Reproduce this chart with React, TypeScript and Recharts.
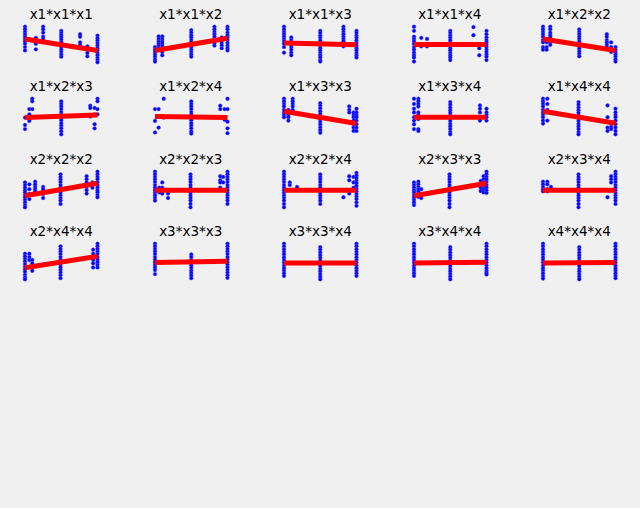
import { Scatter, ScatterChart, XAxis, YAxis } from "recharts";

type Col = [number, number[]];

const TITLES = [
  "x1*x1*x1", "x1*x1*x2", "x1*x1*x3", "x1*x1*x4", "x1*x2*x2",
  "x1*x2*x3", "x1*x2*x4", "x1*x3*x3", "x1*x3*x4", "x1*x4*x4",
  "x2*x2*x2", "x2*x2*x3", "x2*x2*x4", "x2*x3*x3", "x2*x3*x4",
  "x2*x4*x4", "x3*x3*x3", "x3*x3*x4", "x3*x4*x4", "x4*x4*x4",
];

// fitted line: value at left edge, value at right edge
const LINES: [number, number][] = [
  [65, 34], [34, 67], [54, 49], [50, 50], [65, 34],
  [47, 54], [50, 47], [64, 31], [48, 48], [64, 32],
  [33, 67], [48, 48], [48, 48], [33, 67], [48, 48],
  [33, 64], [47, 51], [46, 46], [46, 48], [46, 47],
];

const FULL_A = [98, 91, 83, 76, 69, 61, 54, 47, 39, 32, 25, 18, 11];
const MID_A = [89, 82, 74, 67, 60, 52, 45, 38, 30, 23, 16, 9, 2];

const COLUMNS: Col[][] = [
  [[0, [98, 91, 84, 78, 71, 65, 59, 52, 43, 34]], [15, [68, 59, 52, 37]], [25, [98, 91, 82, 71, 65]], [50, [87, 81, 75, 69, 63, 56, 49, 43, 36, 30, 23, 17]], [76, [78, 71, 56, 49]], [86, [45, 36, 27, 18]], [100, [74, 67, 61, 54, 47, 40, 34, 27, 21, 14, 8, 2]]],
  [[0, [43, 36, 30, 23, 17, 10, 4]], [5, [72, 65, 58, 52, 46, 40]], [10, [72, 65, 58, 52, 46, 39, 30, 21]], [50, [89, 82, 75, 69, 62, 56, 49, 43, 36, 30, 23, 17]], [82, [98, 91, 84, 78, 71, 62, 54, 47]], [92, [69, 62, 54, 47, 40]], [100, [98, 91, 82, 75, 69, 62, 54, 47, 40, 34]]],
  [[0, [98, 91, 84, 78, 71, 65, 59, 52, 43, 28]], [10, [69, 62, 56, 49, 43, 36, 28, 21]], [50, [87, 81, 74, 68, 61, 54, 47, 40, 34, 27, 21, 15, 8, 4]], [82, [98, 91, 84, 78, 71, 65, 59, 52, 45]], [100, [87, 81, 74, 68, 61, 54, 47, 40, 34, 27, 21, 15]]],
  [[0, [98, 87, 71, 65, 59, 52, 43, 36, 28, 21, 15, 4]], [10, [68, 45]], [18, [65, 45]], [50, [87, 81, 74, 68, 61, 54, 47, 40, 34, 27, 21, 15, 8]], [82, [97, 75]], [90, [40, 21]], [100, [87, 78, 69, 62, 56, 49, 43, 36, 30, 23, 17, 8]]],
  [[0, [98, 91, 84, 78, 71, 62, 56, 43, 36]], [5, [56, 43, 36]], [10, [98, 91, 82, 75, 69, 62, 56, 49]], [50, [91, 84, 78, 71, 65, 58, 52, 45, 39, 32, 25, 18]], [88, [78, 71, 62, 56, 49, 43]], [94, [56, 43, 36, 30]], [100, [43, 36, 30, 23, 17, 10, 4]]],

  [[0, [47, 27, 16]], [6, [70, 56, 38]], [10, [98, 91, 70]], [50, [91, 84, 77, 70, 62, 55, 47, 40, 32, 25, 18, 10, 2]], [90, [79, 73, 50]], [96, [73, 56, 29, 18]], [100, [98, 91, 70, 56]]],
  [[0, [70, 38, 7]], [5, [70, 20]], [12, [98, 47]], [50, [91, 84, 77, 70, 62, 55, 47, 40, 32, 25, 18, 10, 4]], [90, [79, 70]], [96, [70, 41]], [100, [98, 70, 36, 18, 5]]],
  [[0, [98, 91, 84, 77, 68, 61, 54, 48]], [6, [68, 61, 54, 48, 39]], [12, [98, 91, 84, 77, 68]], [50, [86, 79, 72, 64, 57, 50, 42, 35, 28, 20, 13, 6]], [90, [77, 68, 61]], [96, [61, 54, 48, 39, 29, 20, 11]], [100, [71, 61, 54, 48, 39, 29, 20, 11]]],
  [[0, [98, 84, 71, 61, 48, 39, 29, 16]], [6, [98, 91, 84, 77, 61, 54, 43, 16, 11]], [50, [89, 82, 74, 67, 60, 52, 45, 38, 30, 23, 16, 8, 2]], [91, [80, 71, 61, 48, 39]], [100, [71, 61, 54, 48, 39]]],
  [[0, [98, 91, 84, 77, 68, 61, 54, 48, 39, 31]], [6, [98, 84, 68, 61, 39]], [49, [89, 82, 74, 67, 60, 52, 45, 38, 30, 23, 16, 8, 2]], [89, [80, 48, 20, 11]], [94, [31, 22, 16]], [100, [71, 61, 54, 48, 39, 29, 20, 11, 2]]],

  [[0, [69, 62, 55, 48, 42, 35, 29, 22, 15, 8, 2]], [6, [64, 51, 38, 24]], [14, [71, 64, 57, 51, 45, 38]], [25, [57, 51, 38, 27]], [49, [91, 84, 77, 70, 62, 55, 48, 41, 34, 27, 20, 11]], [85, [86, 78, 69, 57, 48, 39]], [93, [69, 55]], [100, [98, 91, 84, 78, 69, 62, 55, 48, 42, 35, 29]]],
  [[0, [98, 91, 84, 77, 70, 62, 55, 48, 41, 34, 27, 20]], [6, [55, 42]], [10, [69, 55, 39]], [18, [39, 27]], [49, [91, 84, 77, 70, 62, 55, 48, 41, 34, 27, 20, 11, 2]], [90, [86, 75, 69, 55]], [94, [84, 69]], [100, [98, 91, 84, 77, 70, 62, 55, 48, 41, 34, 27, 20, 11]]],
  [[0, [98, 91, 84, 77, 70, 62, 55, 48, 41, 34, 27, 20, 11, 2]], [8, [69, 62]], [18, [57]], [50, [91, 84, 77, 70, 62, 55, 48, 41, 34, 27, 20, 11]], [82, [29]], [90, [86, 75, 39]], [96, [84, 69, 55]], [100, [95, 88, 81, 74, 67, 60, 52, 45, 38, 31, 24, 15, 6]]],
  [[0, [69, 62, 55, 48, 42, 35, 29, 22, 15, 8]], [6, [71, 64, 57, 51, 45, 38, 30]], [10, [51, 38, 27]], [49, [91, 84, 77, 70, 62, 55, 48, 41, 34, 27, 20, 11, 2]], [92, [73, 64, 55, 46]], [96, [86, 78, 69, 60, 51, 42]], [100, [98, 91, 84, 77, 70, 62, 55, 48, 41]]],
  [[0, [71, 64, 57, 51, 45]], [6, [71, 64, 51, 45]], [11, [57]], [49, [91, 84, 77, 70, 62, 55, 48, 41, 34, 27, 20, 11, 2]], [89, [29]], [94, [86, 78, 69]], [100, [98, 91, 84, 77, 70, 62, 55, 48, 41, 34, 27, 20, 11]]],

  [[0, [71, 64, 57, 50, 43, 36, 29, 22, 14, 7, 2]], [6, [71, 62, 54]], [10, [54, 45, 34, 25]], [49, [91, 84, 77, 70, 62, 55, 48, 41, 34, 27, 20, 13, 5]], [94, [82, 71, 62, 54, 45, 34]], [100, [98, 91, 84, 77, 70, 62, 55, 48, 41, 34]]],
  [[0, [98, 91, 84, 77, 70, 62, 55, 48, 41, 34, 27, 16]], [50, [69, 62, 54, 47, 40, 33, 26, 19, 12, 5]], [100, [98, 91, 84, 77, 70, 62, 55, 48, 41, 34, 27, 20, 13, 6]]],
  [[0, FULL_A], [50, MID_A], [100, FULL_A]],
  [[0, FULL_A], [50, MID_A], [100, [98, 91, 83, 76, 69, 61, 54, 47, 39, 32, 25, 20, 15]]],
  [[0, [98, 91, 83, 76, 69, 61, 54, 47, 39, 32, 25, 18, 11, 4]], [50, MID_A], [100, [98, 91, 83, 76, 69, 61, 54, 47, 39, 32, 25, 18, 11, 5]]],
];

const NCOLS = 5;
const PLOT_W = 72.5;
const PLOT_H = 37;
const PAD = 6;

const Dot = (p: any) => <circle cx={p.cx} cy={p.cy} r={1.9} fill="#0000ff" stroke="#6a6aff" strokeOpacity={0.5} strokeWidth={0.8} />;
const NoDot = () => <g />;

function Panel({ idx }: { idx: number }) {
  const r = Math.floor(idx / NCOLS);
  const c = idx % NCOLS;
  const left = 25 + 129.5 * c;
  const top = 25.5 + 72.6 * r;
  const pts = COLUMNS[idx].flatMap(([x, ys]) => ys.map((y) => ({ x, y })));
  const [y0, y1] = LINES[idx];
  const fit = [{ x: 0, y: y0 }, { x: 100, y: y1 }];
  return (
    <>
      <div
        style={{
          position: "absolute",
          left: left + PLOT_W / 2 - 60,
          top: top - 20,
          width: 120,
          textAlign: "center",
          fontFamily: "DejaVu Sans",
          fontSize: 13.5,
          lineHeight: "16px",
          color: "#000",
        }}
      >
        {TITLES[idx]}
      </div>
      <div style={{ position: "absolute", left: left - PAD, top: top - PAD }}>
        <ScatterChart
          width={PLOT_W + PAD * 2}
          height={PLOT_H + PAD * 2}
          margin={{ top: PAD, right: PAD, bottom: PAD, left: PAD }}
        >
          <XAxis type="number" dataKey="x" domain={[0, 100]} hide />
          <YAxis type="number" dataKey="y" domain={[0, 100]} hide />
          <Scatter data={pts} shape={Dot} isAnimationActive={false} />
          <Scatter
            data={fit}
            shape={NoDot}
            line={{ stroke: "#ff0000", strokeWidth: 5 }}
            isAnimationActive={false}
          />
        </ScatterChart>
      </div>
    </>
  );
}

export default function App() {
  return (
    <div
      style={{
        position: "fixed",
        left: 0,
        top: 0,
        width: 640,
        height: 508,
        background: "#f0f0f0",
      }}
    >
      {TITLES.map((_, i) => (
        <Panel key={i} idx={i} />
      ))}
    </div>
  );
}
